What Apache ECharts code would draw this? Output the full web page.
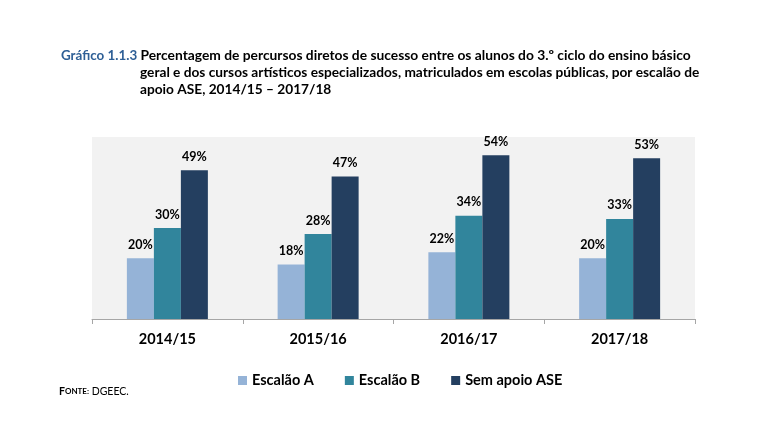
<!DOCTYPE html>
<html><head><meta charset="utf-8">
<script src="https://cdn.jsdelivr.net/npm/echarts@6/dist/echarts.min.js"></script>
<style>html,body{margin:0;padding:0;background:#fff}#c{width:757px;height:446px}</style>
</head><body><div id="c"></div>
<script>
const categories = ['2014/15', '2015/16', '2016/17', '2017/18'];
const escalaoA = [20, 18, 22, 20];
const escalaoB = [30, 28, 34, 33];
const semApoio = [49, 47, 54, 53];
const seriesNames = ['Escalão A', 'Escalão B', 'Sem apoio ASE'];
const colors = ['#95b3d7', '#31859c', '#243f60'];
const F = 'Lato, "Open Sans", sans-serif';

const chart = echarts.init(document.getElementById('c'));
const label = {show: true, position: 'top', distance: 7, formatter: '{c}%', color: '#000', fontWeight: 'bold', fontSize: 12.5, fontFamily: F};
chart.setOption({
  animation: false,
  grid: {left: 92, right: 62, top: 137, bottom: 127, show: true, backgroundColor: '#f2f2f2', borderWidth: 0},
  xAxis: {type: 'category', data: categories,
    axisLine: {lineStyle: {color: '#a6a6a6', width: 1}},
    axisTick: {show: true, length: 5, lineStyle: {color: '#a6a6a6'}},
    axisLabel: {color: '#000', fontWeight: 'bold', fontSize: 14.5, fontFamily: F, margin: 13}},
  yAxis: {type: 'value', min: 0, max: 60, show: false, splitLine: {show: false}},
  legend: {left: 233, top: 368, itemWidth: 9, itemHeight: 9, itemGap: 31, icon: 'rect', itemStyle: {borderWidth: 0},
    textStyle: {color: '#000', fontWeight: 'bold', fontSize: 14.5, fontFamily: F}, data: seriesNames},
  series: [
    {name: seriesNames[0], type: 'bar', data: escalaoA, barWidth: 27, barGap: '0%', itemStyle: {color: colors[0]}, label},
    {name: seriesNames[1], type: 'bar', data: escalaoB, barWidth: 27, barGap: '0%', itemStyle: {color: colors[1]}, label},
    {name: seriesNames[2], type: 'bar', data: semApoio, barWidth: 27, barGap: '0%', itemStyle: {color: colors[2]}, label}
  ],
  graphic: [
    {type: 'text', left: 61, top: 49, style: {text: '{a|Gráfico 1.1.3} {b|Percentagem de percursos diretos de sucesso entre os alunos do 3.º ciclo do ensino básico}',
      rich: {a: {fill: '#2e5f96', fontWeight: 'bold', fontSize: 13.4, fontFamily: F}, b: {fill: '#000', fontWeight: 'bold', fontSize: 13.8, fontFamily: F}}}},
    {type: 'text', left: 140, top: 66, style: {text: 'geral e dos cursos artísticos especializados, matriculados em escolas públicas, por escalão de', fill: '#000', fontWeight: 'bold', fontSize: 13.7, fontFamily: F}},
    {type: 'text', left: 140, top: 83, style: {text: 'apoio ASE, 2014/15 – 2017/18', fill: '#000', fontWeight: 'bold', fontSize: 13.7, fontFamily: F}},
    {type: 'text', left: 59, top: 386, style: {text: '{f|F}{g|ONTE:}{h| DGEEC.}',
      rich: {f: {fill: '#000', fontWeight: 'bold', fontSize: 10.5, fontFamily: F}, g: {fill: '#000', fontWeight: 'bold', fontSize: 8, fontFamily: F}, h: {fill: '#000', fontSize: 10.5, fontFamily: F}}}}
  ]
});
</script></body></html>
